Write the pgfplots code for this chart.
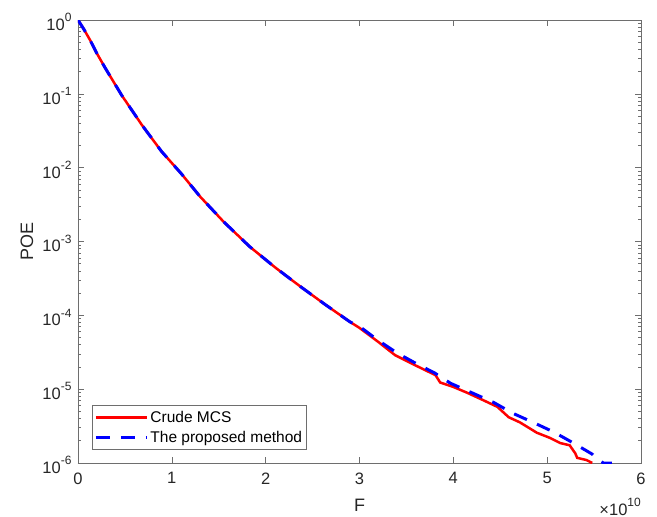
\documentclass[border=0pt]{standalone}
\usepackage{fontspec}
\setmainfont{Liberation Sans}
\usepackage{pgfplots}
\usepackage{pgfplotstable}
\pgfplotsset{compat=1.18}

\definecolor{txtgray}{RGB}{38,38,38}
\definecolor{framegray}{RGB}{110,110,110}

% superscript at a fixed size (textsuperscript follows the 10pt class size)
\newcommand\sups[1]{\raisebox{8.5bp}{\fontsize{12bp}{12bp}\selectfont #1}}

% Crude MCS (F in 1e10)
\pgfplotstableread{
F     P
0.00  1.0
0.06  7.586e-1
0.128 5.370e-1
0.20  3.548e-1
0.29  2.239e-1
0.466 9.550e-2
0.68  3.802e-2
0.89  1.660e-2
1.10  8.318e-3
1.30  4.074e-3
1.55  1.862e-3
1.83  8.511e-4
2.10  4.467e-4
2.37  2.455e-4
2.63  1.413e-4
2.90  8.128e-5
3.00  6.761e-5
3.20  4.365e-5
3.38  2.884e-5
3.60  2.089e-5
3.81  1.549e-5
3.86  1.230e-5
4.00  1.072e-5
4.15  8.913e-6
4.32  7.079e-6
4.47  5.754e-6
4.59  4.169e-6
4.71  3.548e-6
4.89  2.570e-6
5.03  2.188e-6
5.14  1.862e-6
5.24  1.738e-6
5.30  1.349e-6
5.32  1.175e-6
5.42  1.096e-6
5.48  1.0e-6
}\mcsdata

% proposed method
\pgfplotstableread{
F     P
0.00  1.0
0.06  7.586e-1
0.128 5.370e-1
0.20  3.548e-1
0.29  2.239e-1
0.466 9.550e-2
0.68  3.802e-2
0.89  1.660e-2
1.10  8.318e-3
1.30  4.074e-3
1.55  1.862e-3
1.83  8.511e-4
2.10  4.467e-4
2.37  2.455e-4
2.63  1.413e-4
2.90  8.128e-5
3.00  7.079e-5
3.20  4.571e-5
3.40  3.090e-5
3.60  2.239e-5
3.80  1.660e-5
3.97  1.202e-5
4.20  8.913e-6
4.43  6.607e-6
4.64  4.677e-6
4.85  3.548e-6
5.07  2.630e-6
5.28  1.862e-6
5.48  1.318e-6
5.55  1.096e-6
5.60  1.0e-6
5.69  1.0e-6
}\propdata

\begin{document}
\begin{tikzpicture}
\begin{axis}[
    name = ax,
    scale only axis,
    width  = 563bp,
    height = 443bp,
    xmin = 0, xmax = 6,
    ymin = 1e-6, ymax = 1,
    ymode = log,
    xtick = {0,1,2,3,4,5,6},
    ytick = {1e-6,1e-5,1e-4,1e-3,1e-2,1e-1,1},
    yticklabels = {10\sups{-6},10\sups{-5},10\sups{-4},
                   10\sups{-3},10\sups{-2},10\sups{-1},10\sups{0}},
    /pgf/number format/assume math mode = true,
    tick align = inside,
    major tick length = 6bp,
    minor tick length = 3.5bp,
    every tick/.style = {framegray, line width=0.6bp},
    axis line style = {framegray, line width=0.8bp},
    tick label style = {font=\fontsize{16.5bp}{19bp}\selectfont, text=txtgray},
    xticklabel style = {yshift=-6bp},
    yticklabel style = {xshift=-3bp, yshift=-2bp},
    xlabel = {F},
    ylabel = {POE},
    label style = {font=\fontsize{18bp}{21bp}\selectfont, text=txtgray},
    xlabel style = {at={(axis description cs:0.5,-0.0948)}, anchor=center},
    ylabel style = {at={(axis description cs:-0.0906,0.5)}, anchor=center},
    legend cell align = left,
    legend image code/.code = {\draw[#1] (0bp,0bp) -- (51bp,0bp);},
    legend style = {
        at = {(axis description cs:0.0249,0.0293)},
        anchor = south west,
        draw = framegray,
        line width = 0.8bp,
        fill = white,
        font = \fontsize{15.5bp}{18bp}\selectfont,
        text = black,
        row sep = 3bp,
        inner xsep = 2bp,
        inner ysep = 4bp,
    },
]
    \addplot[red, line width=2.5bp] table[x=F, y=P] {\mcsdata};
    \addlegendentry{Crude MCS}
    \addplot[blue, line width=3bp, dash pattern=on 14bp off 11bp] table[x=F, y=P] {\propdata};
    \addlegendentry{The proposed method}
\end{axis}
\node[anchor=base east, inner sep=0pt, text=txtgray,
      font=\fontsize{16.5bp}{19bp}\selectfont]
    at (ax.south east) [yshift=-52bp] {×10\sups{10}};
\pgfresetboundingbox
\path[use as bounding box] (-78bp,-54bp) rectangle (579bp,463bp);
\end{tikzpicture}
\end{document}
